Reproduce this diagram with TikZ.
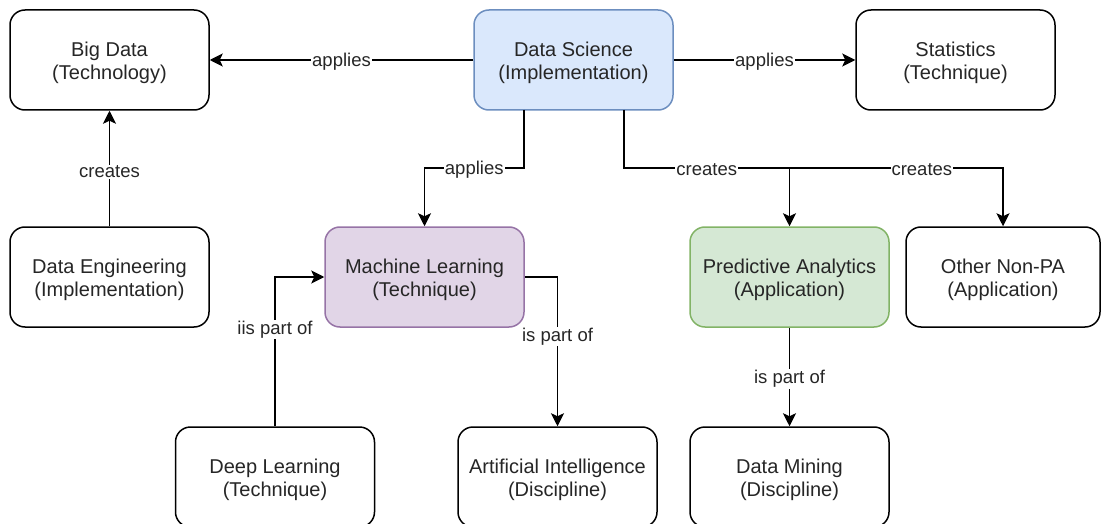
\documentclass[tikz,border=0pt]{standalone}
\usepackage{fontspec}
\setmainfont{Liberation Sans}
\usetikzlibrary{arrows.meta}
\definecolor{dsfill}{HTML}{DAE8FC}
\definecolor{dsline}{HTML}{6C8EBF}
\definecolor{mlfill}{HTML}{E1D5E7}
\definecolor{mlline}{HTML}{9673A6}
\definecolor{pafill}{HTML}{D5E8D4}
\definecolor{paline}{HTML}{82B366}
\definecolor{txt}{HTML}{262626}
\tikzset{
  box/.style={draw=black, line width=1.5pt, rounded corners=15pt, fill=white,
    minimum width=199pt, minimum height=100pt, align=center, text=txt,
    inner sep=0pt, text height=44pt, font=\fontsize{20}{23}\selectfont},
  conn/.style={line width=1.6pt, -{Stealth[length=13pt,width=13pt,inset=3pt]}},
  plain/.style={line width=1.6pt},
  lbl/.style={fill=white, inner sep=1pt, yshift=-2pt, text=txt, font=\fontsize{18.5}{21}\selectfont}
}
\begin{document}
\begin{tikzpicture}[x=1pt,y=-1pt]
\useasboundingbox (0,0) rectangle (1101,524);
\node[box] (bd) at (109.5,60) {Big Data\\(Technology)};
\node[box, fill=dsfill, draw=dsline] (ds) at (573.5,60) {Data Science\\(Implementation)};
\node[box] (st) at (955.5,60) {Statistics\\(Technique)};
\node[box] (de) at (109.5,277) {Data Engineering\\(Implementation)};
\node[box, fill=mlfill, draw=mlline] (ml) at (424.5,277) {Machine Learning\\(Technique)};
\node[box, fill=pafill, draw=paline] (pa) at (789.5,277) {Predictive Analytics\\(Application)};
\node[box, minimum width=194pt] (ot) at (1003,277) {Other Non-PA\\(Application)};
\node[box] (dl) at (275,477) {Deep Learning\\(Technique)};
\node[box] (ai) at (557.5,477) {Artificial Intelligence\\(Discipline)};
\node[box] (dm) at (789.5,477) {Data Mining\\(Discipline)};

\coordinate (dsl) at (524,110);
\coordinate (dsr) at (624,110);

\draw[conn] (ds) -- node[lbl] {applies} (bd);
\draw[conn] (ds) -- node[lbl] {applies} (st);
\draw[conn] (de) -- node[lbl, pos=0.49] {creates} (bd);
\draw[conn] (dsl) |- node[lbl, pos=0.75] {applies} (424.5,168) -- (ml.north);
\draw[plain] (dsr) |- node[lbl, pos=0.75] {creates} (789.5,168);
\draw[conn] (789.5,168) -- (pa.north);
\draw[conn] (789.5,168) -- node[lbl, pos=0.62] {creates} (1003,168) -- (ot.north);
\draw[conn] (dl.north) |- node[lbl, pos=0.33] {iis part of} (ml.west);
\draw[conn] (ml.east) -| node[lbl, pos=0.693] {is part of} (ai.north);
\draw[conn] (pa) -- node[lbl] {is part of} (dm);
\end{tikzpicture}
\end{document}
